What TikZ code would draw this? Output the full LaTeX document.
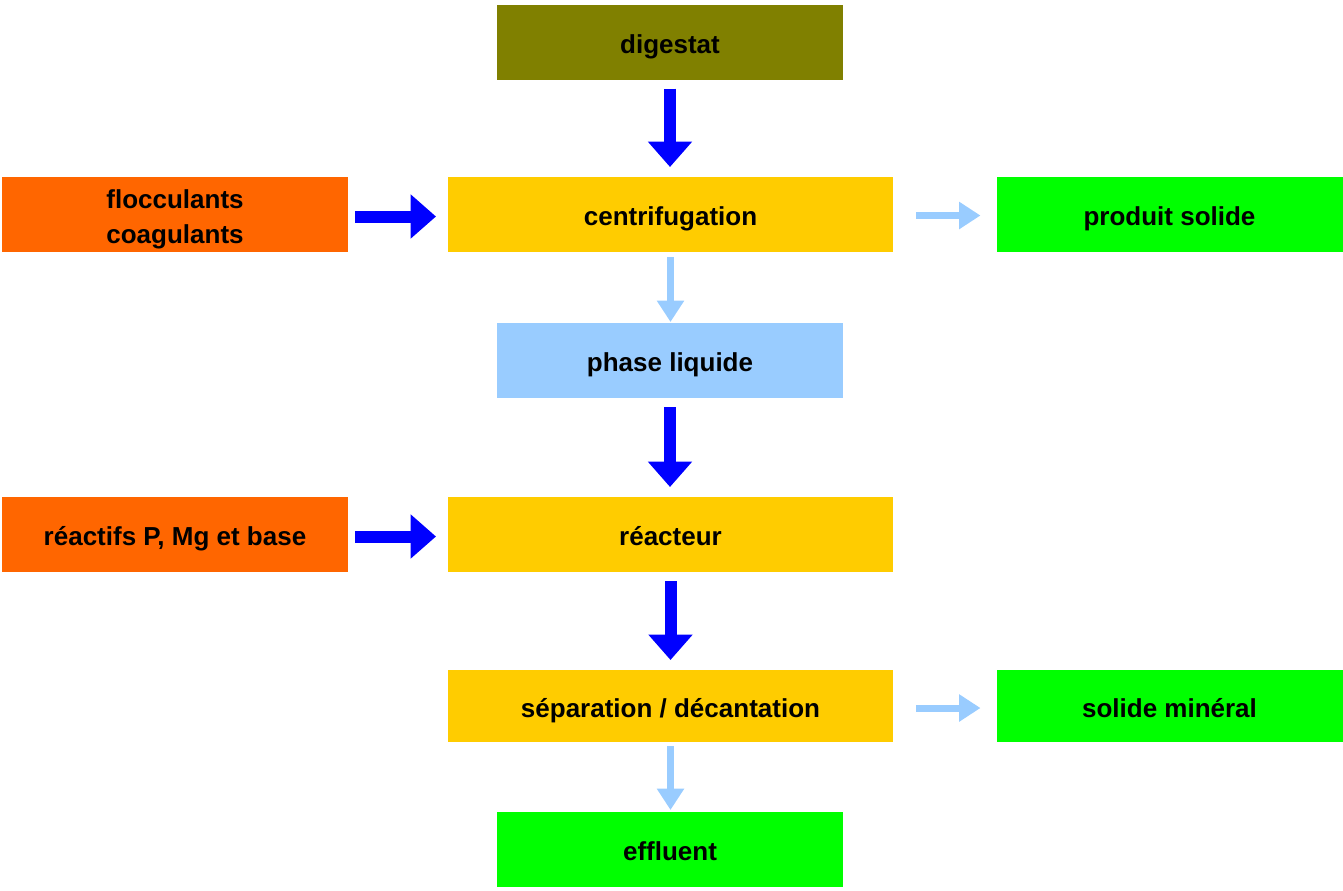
\documentclass[tikz,border=0pt]{standalone}
\usepackage{fontspec}
\setmainfont{Liberation Sans}
\usetikzlibrary{arrows.meta}
\definecolor{olivebox}{HTML}{808000}
\definecolor{orangebox}{HTML}{FF6600}
\definecolor{yellowbox}{HTML}{FFCC00}
\definecolor{greenbox}{HTML}{00FF00}
\definecolor{lightbluebox}{HTML}{99CCFF}
\definecolor{flowblue}{HTML}{0000FF}
\begin{document}
\begin{tikzpicture}[x=0.75pt,y=-0.75pt,
  box/.style={rectangle,inner sep=0pt,outer sep=0pt,align=center,
    font=\fontsize{19.5}{26}\selectfont\bfseries,text=black,
    text height=16.5pt,text depth=0pt},
  narrow/.style={box,minimum width=259.5pt,minimum height=56.25pt},
  wide/.style={box,minimum width=333.75pt,minimum height=56.25pt},
  mainflow/.style={flowblue,line width=9pt,-{Triangle[length=19pt,width=32pt]}},
  sideflow/.style={lightbluebox,line width=5.25pt,-{Triangle[length=16pt,width=19.5pt]}}]
\useasboundingbox (0,0) rectangle (1343,890);

% process boxes
\node[narrow,fill=olivebox]     (dig)  at (670,42)     {digestat};
\node[narrow,fill=orangebox,text height=42.75pt] (floc) at (175,214.5) {flocculants\\coagulants};
\node[wide,fill=yellowbox]      (cent) at (670.5,214.5){centrifugation};
\node[narrow,fill=greenbox]     (prod) at (1169.5,214.5){produit solide};
\node[narrow,fill=lightbluebox] (liq)  at (670,360.5)  {phase liquide};
\node[narrow,fill=orangebox]    (reac) at (175,534.5)  {réactifs P, Mg et base};
\node[wide,fill=yellowbox]      (rtr)  at (670.5,534.5){réacteur};
\node[wide,fill=yellowbox,minimum height=54pt] (sep) at (670.5,706) {séparation / décantation};
\node[narrow,fill=greenbox,minimum height=54pt] (min) at (1169.5,706) {solide minéral};
\node[narrow,fill=greenbox]     (eff)  at (670,849.5)  {effluent};

% main flow
\draw[mainflow,shorten <=6.75pt,shorten >=7.5pt] (dig.south) -- (dig.south |- cent.north);
\draw[mainflow,shorten <=5.25pt,shorten >=9pt] ([yshift=-1.5pt]floc.east) -- ([yshift=-1.5pt]floc.east -| cent.west);
\draw[mainflow,shorten <=6.75pt,shorten >=7.5pt] (liq.south) -- (liq.south |- rtr.north);
\draw[mainflow,shorten <=5.25pt,shorten >=9pt] ([yshift=-1.5pt]reac.east) -- ([yshift=-1.5pt]reac.east -| rtr.west);
\draw[mainflow,shorten <=6.75pt,shorten >=7.5pt] (rtr.south) -- (rtr.south |- sep.north);

% side flows
\draw[sideflow,shorten <=17.25pt,shorten >=12pt] ([yshift=-0.75pt]cent.east) -- ([yshift=-0.75pt]cent.east -| prod.west);
\draw[sideflow,shorten <=3.75pt,shorten >=0.75pt] (cent.south) -- (cent.south |- liq.north);
\draw[sideflow,shorten <=17.25pt,shorten >=12pt] ([yshift=-1.5pt]sep.east) -- ([yshift=-1.5pt]sep.east -| min.west);
\draw[sideflow,shorten <=3pt,shorten >=1.5pt] (sep.south) -- (sep.south |- eff.north);
\end{tikzpicture}
\end{document}
